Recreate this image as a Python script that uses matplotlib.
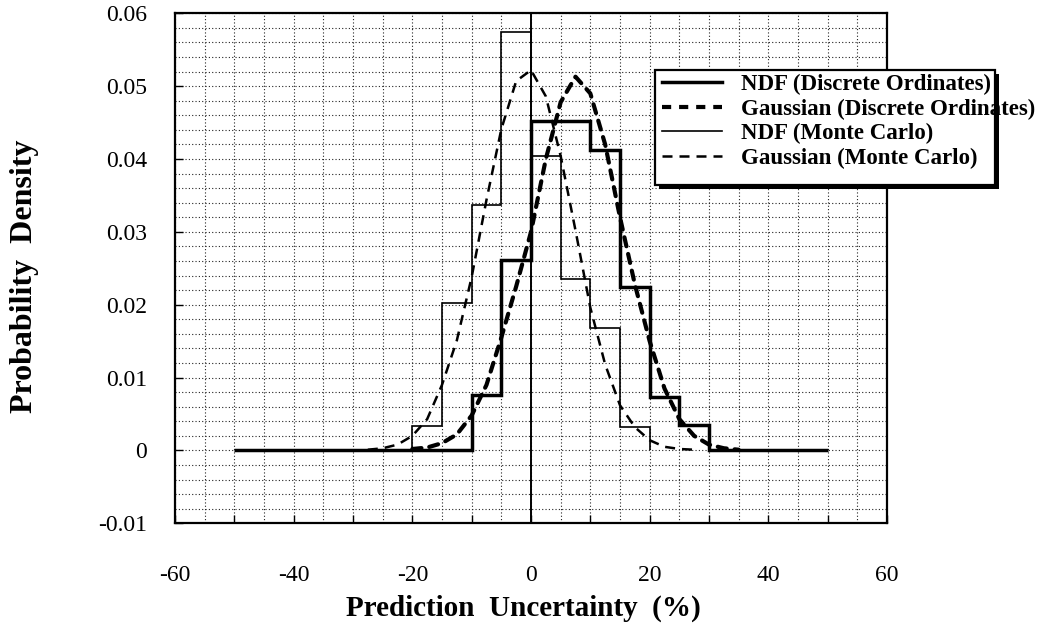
import numpy as np
import matplotlib
matplotlib.use("Agg")
import matplotlib.pyplot as plt
from matplotlib.ticker import MultipleLocator, FuncFormatter
from matplotlib.patches import Rectangle
from matplotlib.lines import Line2D

plt.rcParams['font.family'] = ['Liberation Serif', 'DejaVu Serif']
plt.rcParams['axes.unicode_minus'] = False

# histogram bin edges (%) and densities
do_edges = [-50, -10, -5, 0, 5, 10, 15, 20, 25, 30, 50]
do_ndf = [0, 0.0076, 0.0261, 0.0452, 0.0452, 0.0413, 0.0224, 0.0074, 0.0035, 0]
mc_edges = [-20, -15, -10, -5, 0, 5, 10, 15, 20]
mc_ndf = [0.0033, 0.0202, 0.0337, 0.0575, 0.0404, 0.0235, 0.0168, 0.0032]

# gaussian curves, read point by point
do_gx = [-20, -17.5, -15, -12.5, -10, -7.5, -5, -2.5, 0, 2.5, 5, 7.5, 10,
         12.5, 15, 17.5, 20, 22.5, 25, 27.5, 30, 32.5, 35]
do_gy = [0.0002, 0.0004, 0.0010, 0.0022, 0.0048, 0.0090, 0.0155, 0.0225,
         0.0300, 0.0400, 0.0478, 0.0513, 0.0490, 0.0420, 0.0320, 0.0228,
         0.0150, 0.0085, 0.0043, 0.0020, 0.0008, 0.0003, 0.0001]
mc_gx = [-27.5, -25, -22.5, -20, -17.5, -15, -12.5, -10, -7.5, -5, -2.5, 0,
         2.5, 5, 7.5, 10, 12.5, 15, 17.5, 20, 22.5, 25, 27.5]
mc_gy = [0.0001, 0.0003, 0.0008, 0.0020, 0.0043, 0.0090, 0.0151, 0.0238,
         0.0344, 0.0441, 0.0507, 0.0522, 0.0486, 0.0404, 0.0302, 0.0196,
         0.0118, 0.0062, 0.0032, 0.0014, 0.0005, 0.0002, 0.0001]

labels = ['NDF (Discrete Ordinates)', 'Gaussian (Discrete Ordinates)',
          'NDF (Monte Carlo)', 'Gaussian (Monte Carlo)']

W, H = 1045, 628
fig = plt.figure(figsize=(W / 100, H / 100), dpi=100)
ax = fig.add_axes([175 / W, 1 - 523.3 / H, (887 - 175) / W, (523.3 - 13.3) / H])

ax.set_xlim(-60, 60)
ax.set_ylim(-0.01, 0.06)

ax.xaxis.set_major_locator(MultipleLocator(10))
ax.xaxis.set_minor_locator(MultipleLocator(5))
ax.xaxis.set_major_formatter(FuncFormatter(
    lambda v, p: '%d' % round(v) if round(v) % 20 == 0 else ''))
ax.yaxis.set_major_locator(MultipleLocator(0.01))
ax.yaxis.set_minor_locator(MultipleLocator(0.002))
ax.yaxis.set_major_formatter(FuncFormatter(
    lambda v, p: '0' if abs(v) < 1e-9 else '%.2f' % v))

ax.grid(True, which='both', color='#222222', linestyle=(0, (1, 2)), lw=0.8)
ax.set_axisbelow(True)
ax.tick_params(which='major', direction='in', length=6, width=1.0, labelsize=17)
ax.tick_params(axis='x', which='major', pad=30)
ax.tick_params(axis='y', which='major', pad=20)
ax.tick_params(which='minor', length=0)
for s in ax.spines.values():
    s.set_linewidth(1.6)

ax.axvline(0, color='black', lw=1.4, zorder=2)

mc_dash = (0, (4.0, 2.8))
do_dash = (0, (2.2, 1.9))
ax.stairs(mc_ndf, mc_edges, baseline=0, color='black', lw=1.2, zorder=3)
ax.stairs(do_ndf, do_edges, baseline=0, color='black', lw=2.5, zorder=4)
ax.plot(mc_gx, mc_gy, color='black', lw=1.8, linestyle=mc_dash, zorder=3)
ax.plot(do_gx, do_gy, color='black', lw=3.0, linestyle=do_dash,
        dash_capstyle='round', zorder=4)

# legend box with hard shadow, edge drawn over the text like the original
bx, by, bw, bh = 655, 70, 340, 115
ax.add_patch(Rectangle(((bx + 4) / W, 1 - (by + bh + 4) / H), bw / W, bh / H,
                       transform=fig.transFigure, facecolor='black',
                       edgecolor='none', clip_on=False, zorder=8))
ax.add_patch(Rectangle((bx / W, 1 - (by + bh) / H), bw / W, bh / H,
                       transform=fig.transFigure, facecolor='white',
                       edgecolor='none', clip_on=False, zorder=9))
handles = [Line2D([], [], color='black', lw=2.5),
           Line2D([], [], color='black', lw=3.0, linestyle=do_dash),
           Line2D([], [], color='black', lw=1.2),
           Line2D([], [], color='black', lw=1.8, linestyle=mc_dash)]
leg = ax.legend(handles, labels, loc='upper left',
                bbox_to_anchor=(662 / W, 1 - 74 / H), bbox_transform=fig.transFigure,
                frameon=False, borderpad=0, borderaxespad=0,
                prop={'family': 'Liberation Serif', 'weight': 'bold', 'size': 16.5},
                handlelength=2.6, handletextpad=0.85, labelspacing=0.15)
leg.set_zorder(10)
ax.add_patch(Rectangle((bx / W, 1 - (by + bh) / H), bw / W, bh / H,
                       transform=fig.transFigure, facecolor='none',
                       edgecolor='black', lw=1.6, clip_on=False, zorder=11))

fig.text(25 / W, 1 - 276 / H, 'Probability  Density', rotation=90,
         ha='center', va='center', fontsize=23, fontweight='bold')
fig.text(523 / W, 1 - 616 / H, 'Prediction  Uncertainty  (%)',
         ha='center', va='baseline', fontsize=21, fontweight='bold')

fig.savefig('out.png', dpi=100)
